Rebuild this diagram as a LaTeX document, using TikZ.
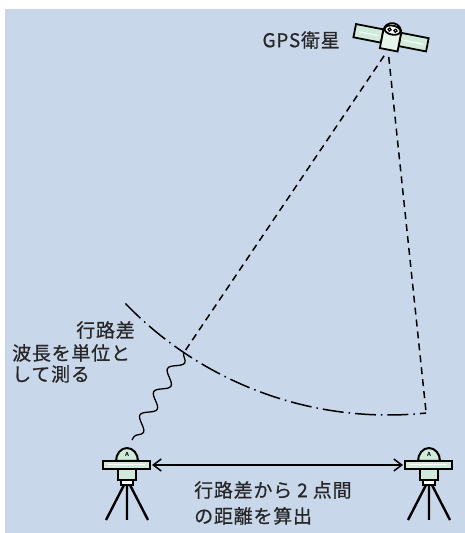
\documentclass[tikz,border=0pt]{standalone}
\usepackage{fontspec}
\newfontfamily\jp[LetterSpace=4, FakeBold=0.6]{Noto Sans CJK JP}
\usetikzlibrary{calc,arrows.meta,decorations.pathmorphing}
\definecolor{sky}{RGB}{201,215,234}
\definecolor{mint}{RGB}{208,235,218}
\definecolor{ink}{RGB}{38,38,38}

\tikzset{
  station/.pic={
    \draw[line width=2pt, fill=mint] (-11,4) arc[start angle=180, end angle=0,
      x radius=11, y radius=13] -- cycle;
    \node[font=\sffamily\bfseries\fontsize{6}{6}\selectfont, inner sep=0] at (0,11) {A};
    \draw[line width=2.2pt, fill=mint] (-24,-4) rectangle (23,4);
    \draw[white, line width=1pt] (-19,0) -- (18,0);
    \draw[line width=2pt, fill=mint] (-9,-4) rectangle (9,-15);
    \draw[line width=2pt, fill=white] (-6,-15) rectangle (6,-20);
    \draw[line width=2.4pt] (-3,-20) -- (-21,-55) (0,-20) -- (0,-55) (3,-20) -- (21,-55);
    \coordinate (-top) at (0,17);
    \coordinate (-east) at (25,0);
    \coordinate (-west) at (-26,0);
  }
}

\begin{document}
\begin{tikzpicture}[x=1pt, y=1pt,
    label/.style={font=\jp\fontsize{19}{26}\selectfont, text=ink, inner sep=0},
    ray/.style={line width=1.5pt, dash pattern=on 7pt off 5pt, shorten <=7pt},
    front/.style={line width=1.5pt, dash pattern=on 21pt off 5pt on 1.5pt off 5pt},
    wave/.style={line width=1.3pt, decorate, decoration={snake, segment length=27pt,
      amplitude=6pt}}]
  \def\R{365}
  \useasboundingbox (0,0) rectangle (465,533);
  \fill[sky] (5,0) rectangle (465,524);

  % satellite
  \coordinate (O) at (388,483);
  \begin{scope}[shift={(391,495)}, rotate=-11, line width=1.8pt]
    \draw[fill=mint] (-37,-6.5) rectangle (-9,7);
    \draw[fill=mint] (9,-6.5) rectangle (37,7);
    \draw[white, line width=1pt] (-33,0) -- (-13,0) (13,0) -- (33,0);
    \draw[fill=white!50!mint] (-9,-12) -- (-9,6) arc[start angle=180, end angle=0,
      radius=9] -- (9,-12) -- cycle;
    \draw[fill=white] (0,8) ellipse [x radius=8, y radius=4.5];
    \draw[line width=1.2pt] (-3,8) circle (1.6) (3,8) circle (1.6);
  \end{scope}
  \node[label, anchor=east] (gps) at (340,493) {GPS衛星};

  % wave fronts
  \coordinate (B) at ($(O)+(236:\R)$);
  \coordinate (C) at ($(O)+(276:\R)$);
  \draw[ray] (O) -- (B);
  \draw[ray] (O) -- (C);
  \draw[front] ($(O)+(224:\R)$) arc[start angle=224, end angle=276, radius=\R];

  % receivers
  \pic (stL) at (127,68) {station};
  \pic (stR) at (429,68) {station};
  \draw[wave] (B) -- ($(stL-top)+(5,8)$);
  \draw[line width=1.5pt, {Straight Barb[length=8pt, width=12pt]}-{Straight Barb[length=8pt, width=12pt]}]
    (stL-east) -- (stR-west);

  \node[label, anchor=east] (diff) at (135,203) {行路差};
  \node[label, anchor=west] (wl1) at (12,180) {波長を単位と};
  \node[label, anchor=west] (wl2) at (12,159) {して測る};
  \node[label, anchor=north west, align=left] (dist) at (194,52)
    {行路差から 2 点間\\の距離を算出};
\end{tikzpicture}
\end{document}
